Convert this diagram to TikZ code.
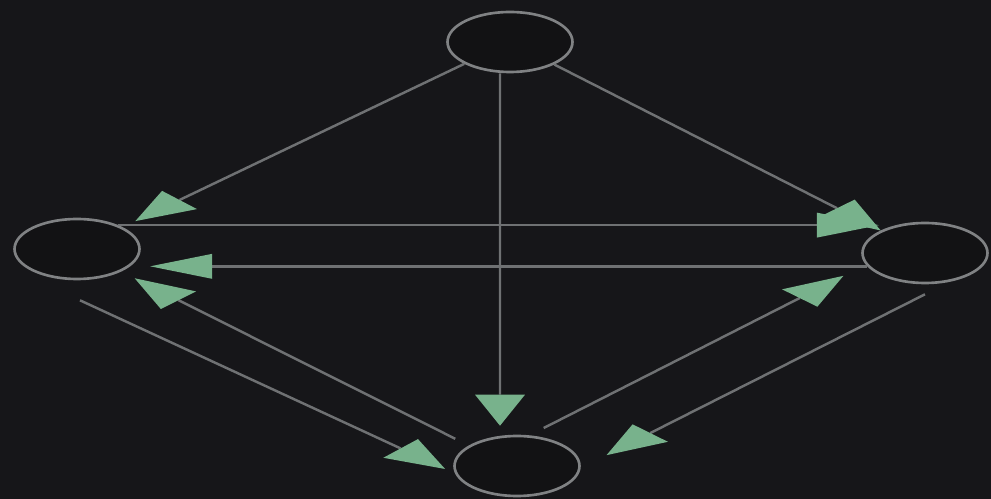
\documentclass[tikz,border=0pt]{standalone}
\usepackage{xcolor}
\usepackage{tikz}
\usetikzlibrary{arrows.meta, shapes.geometric}

\definecolor{bgdark}{HTML}{161619}
\definecolor{wire}{HTML}{6F7173}
\definecolor{rim}{HTML}{808284}
\definecolor{tipgreen}{HTML}{78B28C}

\begin{document}
\begin{tikzpicture}[x=0.02cm, y=-0.02cm, state/.style={ellipse, draw=rim, fill=bgdark!80!black, line width=1.5pt, minimum width=2.5cm, minimum height=1.2cm, inner sep=0pt}, link/.style={draw=wire, line width=1.4pt}, htip/.style={-{Triangle[length=1.24cm, width=0.5cm, color=tipgreen, line width=0pt]}}, vtip/.style={-{Triangle[length=0.62cm, width=1cm, color=tipgreen, line width=0pt]}}, dtipA/.style={-{Triangle[length=0.98cm, width=0.63cm, slant=-0.75, color=tipgreen, line width=0pt]}}, dtipB/.style={-{Triangle[length=0.98cm, width=0.63cm, slant=0.75, color=tipgreen, line width=0pt]}}]
  \useasboundingbox (0,0) rectangle (991,499);
  \fill[bgdark] (0,0) rectangle (991,499);

  \node[state] (t) at (510,42) {};
  \node[state] (l) at (77,249) {};
  \node[state] (r) at (925,253) {};
  \node[state] (b) at (517,466) {};

  % from the top
  \draw[link, dtipA, shorten >=0.28cm] (t) -- (l);
  \draw[link, dtipB] (t) -- (r);
  \draw[link, vtip, shorten >=0.18cm] ([xshift=-0.2cm]t.south) -- ([xshift=-0.34cm]b.north);
  % across
  \draw[link, htip, shorten >=0.28cm] (l.30) -- (l.30 -| r.140);
  \draw[link, htip, shorten >=0.4cm] (r.193) -- (r.193 -| l.342);
  % lower half
  \draw[link, dtipB, shorten <=0.3cm, shorten >=0.3cm] (b.157) -- (l.333);
  \draw[link, dtipB, shorten >=0.22cm] ([shift={(0.06cm,-0.4cm)}]l.south) -- (b.187);
  \draw[link, dtipA, shorten <=0.32cm, shorten >=0.5cm] (b.68) -- (r.191);
  \draw[link, dtipA, shorten >=0.58cm] ([yshift=-0.2cm]r.south) -- (b.358);
\end{tikzpicture}
\end{document}
